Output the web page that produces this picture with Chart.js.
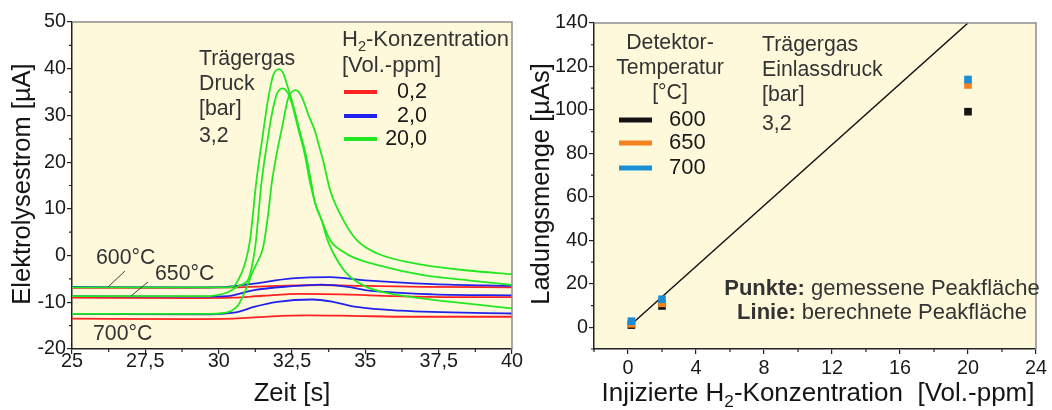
<!DOCTYPE html>
<html>
<head>
<meta charset="utf-8">
<script src="https://cdn.jsdelivr.net/npm/chart.js@4/dist/chart.umd.min.js"></script>
<style>
  body { margin: 0; background: #fff; }
  #wrap { position: relative; width: 1052px; height: 410px; }
  .box { position: absolute; top: 0; height: 410px; }
</style>
</head>
<body>
<div id="wrap">
  <div class="box" style="left:0;width:530px"><canvas id="peakChart"></canvas></div>
  <div class="box" style="left:530px;width:522px"><canvas id="areaChart"></canvas></div>
</div>
<script>
// ---- left panel: Elektrolysestrom vs. Zeit ----
const zeitTicks = [25, 27.5, 30, 32.5, 35, 37.5, 40];
const stromTicks = [-20, -10, 0, 10, 20, 30, 40, 50];
const konzLabels = ['0,2', '2,0', '20,0'];
const konzColors = ['#ff2222', '#2222ee', '#22e822'];

// 0,2 Vol.-ppm
const t_r600 = [25, 29, 30.5, 32, 33.5, 35, 37, 40];
const i_r600 = [-6.9, -6.9, -6.8, -6.5, -6.3, -6.5, -6.7, -6.8];
const t_r650 = [25, 29, 30.5, 31.5, 32.8, 34.2, 36, 38, 40];
const i_r650 = [-9.0, -9.1, -9.0, -8.6, -8.2, -8.3, -8.7, -8.9, -8.9];
const t_r700 = [25, 29, 30.5, 31.8, 33, 34.5, 36.5, 40];
const i_r700 = [-13.5, -13.6, -13.5, -13.0, -12.8, -12.9, -13.1, -13.1];

// 2,0 Vol.-ppm
const t_b600 = [25, 29.5, 30.3, 31.2, 32.5, 33.8, 35, 37.3, 40];
const i_b600 = [-6.7, -6.8, -6.7, -6.0, -4.9, -4.6, -5.3, -6.1, -6.5];
const t_b650 = [25, 29.5, 30.3, 31.2, 32.4, 33.5, 34.4, 35, 37.3, 40];
const i_b650 = [-8.7, -8.8, -8.7, -7.4, -6.6, -6.2, -6.7, -7.4, -8.3, -8.5];
const t_b700 = [25, 29.5, 30.1, 30.7, 31.2, 32, 33.2, 33.9, 34.7, 36.2, 40];
const i_b700 = [-12.5, -12.6, -12.5, -12.0, -11.0, -9.9, -9.4, -9.9, -11.0, -11.8, -12.4];

// 20,0 Vol.-ppm
const t_g600 = [25, 30.3, 30.5, 30.67, 30.9, 31.07, 31.17, 31.27, 31.52, 31.69, 31.86, 32.06, 32.2, 32.37, 32.54, 32.77, 33.0, 33.17, 33.29, 33.51, 33.7, 33.91, 34.36, 35.04, 35.6, 36.98, 38.5, 40];
const i_g600 = [-6.8, -6.8, -6.6, -5.2, -1.7, 3.3, 9.0, 15.1, 26.5, 33.7, 38.6, 39.9, 39.0, 35.8, 32.2, 26.5, 20.8, 15.1, 11.2, 7.6, 3.5, 0.5, -3.8, -6.7, -7.8, -9.2, -10.3, -11.3];
const t_g650 = [25, 29.5, 29.9, 30.33, 30.67, 31.0, 31.12, 31.25, 31.36, 31.45, 31.65, 31.82, 31.98, 32.17, 32.37, 32.48, 32.71, 32.94, 33.12, 33.29, 33.51, 33.8, 34.25, 34.59, 35.39, 36.98, 38.5, 40];
const i_g650 = [-8.7, -8.7, -8.5, -7.8, -6.5, -5.2, -2.7, 2.0, 9.0, 15.1, 24.0, 30.5, 34.5, 35.8, 34.7, 32.9, 27.2, 21.5, 15.5, 11.2, 7.6, 3.3, 0.8, -0.4, -2.0, -4.2, -5.3, -6.3];
const t_g700 = [25, 29.6, 30.0, 30.44, 30.67, 30.84, 31.0, 31.15, 31.35, 31.52, 31.69, 31.8, 31.97, 32.2, 32.37, 32.63, 32.83, 33.06, 33.29, 33.4, 33.57, 33.8, 34.25, 34.71, 35.39, 36.98, 38.5, 40];
const i_g700 = [-12.5, -12.5, -12.4, -11.8, -10.6, -8.5, -6.2, -3.6, -1.0, 1.9, 9.0, 15.1, 21.5, 28.6, 33.7, 35.4, 34.0, 30.1, 26.5, 24.0, 20.1, 14.0, 7.6, 3.3, 0.5, -2.0, -3.2, -4.0];

// ---- right panel: Ladungsmenge vs. Konzentration ----
const konzPunkte = [0.2, 2, 20];
const q600 = [1.0, 9.8, 99.2];
const q650 = [1.6, 11.0, 111.5];
const q700 = [2.8, 12.9, 114.0];
const linieX = [0.2, 20];
const linieY = [1.4, 140];
const tempLabels = ['600', '650', '700'];
const tempColors = ['#141414', '#f5821f', '#1a8fd6'];
const konzTicks = [0, 4, 8, 12, 16, 20, 24];
const ladungTicks = [0, 20, 40, 60, 80, 100, 120, 140];

const FONT = '"Liberation Sans", Arial, sans-serif';
const TEXT = '#333';
const BG = '#fff9dc';
const komma = v => String(v).replace('.', ',');
const pts = (xs, ys) => xs.map((x, i) => ({ x: x, y: ys[i] }));

// text with bold / subscript pieces, parts = [[text, kind], ...]
function drawParts(ctx, parts, x, y, size, align, color) {
  const fontOf = k => (k === 'b' ? 'bold ' : '') + (k === 's' ? size * 0.66 : size) + 'px ' + FONT;
  let total = 0;
  parts.forEach(p => { ctx.font = fontOf(p[1]); total += ctx.measureText(p[0]).width; });
  let cx = align === 'center' ? x - total / 2 : (align === 'right' ? x - total : x);
  ctx.fillStyle = color || TEXT;
  ctx.textAlign = 'left';
  ctx.textBaseline = 'middle';
  parts.forEach(p => {
    ctx.font = fontOf(p[1]);
    ctx.fillText(p[0], cx, p[1] === 's' ? y + size * 0.3 : y);
    cx += ctx.measureText(p[0]).width;
  });
}

function drawVertical(ctx, parts, x, y, size) {
  ctx.save();
  ctx.translate(x, y);
  ctx.rotate(-Math.PI / 2);
  drawParts(ctx, parts, 0, 0, size, 'center', '#151515');
  ctx.restore();
}

function minorTicks(chart, xs, ys, len) {
  const ctx = chart.ctx, a = chart.chartArea;
  ctx.save();
  ctx.strokeStyle = '#222';
  ctx.lineWidth = 1.2;
  ctx.beginPath();
  xs.forEach(v => {
    const p = chart.scales.x.getPixelForValue(v);
    ctx.moveTo(p, a.bottom); ctx.lineTo(p, a.bottom + len);
  });
  ys.forEach(v => {
    const p = chart.scales.y.getPixelForValue(v);
    ctx.moveTo(a.left - len, p); ctx.lineTo(a.left, p);
  });
  ctx.stroke();
  ctx.restore();
}

function frame(chart) {
  const ctx = chart.ctx, a = chart.chartArea;
  ctx.save();
  ctx.strokeStyle = '#8c8c8c';
  ctx.lineWidth = 1.5;
  ctx.beginPath();
  ctx.moveTo(a.left, a.top); ctx.lineTo(a.right, a.top); ctx.lineTo(a.right, a.bottom);
  ctx.stroke();
  ctx.restore();
}

function legendLine(ctx, x1, x2, y, color, w) {
  ctx.save();
  ctx.strokeStyle = color;
  ctx.lineWidth = w;
  ctx.beginPath(); ctx.moveTo(x1, y); ctx.lineTo(x2, y); ctx.stroke();
  ctx.restore();
}

const paintBg = {
  id: 'paintBg',
  beforeDraw(chart) {
    const a = chart.chartArea;
    chart.ctx.save();
    chart.ctx.fillStyle = BG;
    chart.ctx.fillRect(a.left, a.top, a.right - a.left, a.bottom - a.top);
    chart.ctx.restore();
  }
};

const peakDeko = {
  id: 'peakDeko',
  afterDraw(chart) {
    const ctx = chart.ctx;
    frame(chart);
    minorTicks(chart, [26.25, 28.75, 31.25, 33.75, 36.25, 38.75], [-15, -5, 5, 15, 25, 35, 45], 3);

    ['Trägergas', 'Druck', '[bar]', '3,2'].forEach((s, i) =>
      drawParts(ctx, [[s, '']], 199, [59, 84, 109, 136][i], 21.3, 'left'));

    drawParts(ctx, [['H', ''], ['2', 's'], ['-Konzentration', '']], 342, 40, 22, 'left');
    drawParts(ctx, [['[Vol.-ppm]', '']], 342, 66, 22, 'left');
    konzLabels.forEach((s, i) => {
      const y = [92, 116, 139][i];
      legendLine(ctx, 344, 377, y, konzColors[i], 4);
      drawParts(ctx, [[s, '']], 427, y, 21.5, 'right', '#1a1a1a');
    });

    drawParts(ctx, [['600°C', '']], 96, 258, 21.3, 'left');
    drawParts(ctx, [['650°C', '']], 155, 274, 21.3, 'left');
    drawParts(ctx, [['700°C', '']], 93, 334, 21.3, 'left');
    ctx.save();
    ctx.strokeStyle = '#444';
    ctx.lineWidth = 1;
    ctx.beginPath();
    ctx.moveTo(108, 287); ctx.lineTo(125, 271);
    ctx.moveTo(131, 296); ctx.lineTo(148, 282);
    ctx.stroke();
    ctx.restore();

    drawVertical(ctx, [['Elektrolysestrom [µA]', '']], 22.5, 184, 25.5);
    drawParts(ctx, [['Zeit [s]', '']], 292, 394, 25.5, 'center', '#151515');
  }
};

const areaDeko = {
  id: 'areaDeko',
  afterDraw(chart) {
    const ctx = chart.ctx;
    frame(chart);
    minorTicks(chart, [-2, 2, 6, 10, 14, 18, 22], [-10, 10, 30, 50, 70, 90, 110, 130], 3);

    drawParts(ctx, [['Detektor-', '']], 140, 43, 21.3, 'center');
    drawParts(ctx, [['Temperatur', '']], 140, 68, 21.3, 'center');
    drawParts(ctx, [['[°C]', '']], 140, 93, 21.3, 'center');
    tempLabels.forEach((s, i) => {
      const y = [120, 143, 168][i];
      legendLine(ctx, 89, 122, y, tempColors[i], 5);
      drawParts(ctx, [[s, '']], 139, y, 22, 'left', '#1a1a1a');
    });

    ['Trägergas', 'Einlassdruck', '[bar]', '3,2'].forEach((s, i) =>
      drawParts(ctx, [[s, '']], 232, [45, 70, 95, 124][i], 21.3, 'left'));

    drawParts(ctx, [['Punkte:', 'b'], [' gemessene Peakfläche', '']], 352, 289, 22, 'center');
    drawParts(ctx, [['Linie:', 'b'], [' berechnete Peakfläche', '']], 352, 313, 22, 'center');

    drawVertical(ctx, [['Ladungsmenge [µAs]', '']], 12, 184, 25.5);
    drawParts(ctx, [['Injizierte H', ''], ['2', 's'], ['-Konzentration  [Vol.-ppm]', '']], 288, 394, 26, 'center', '#151515');
  }
};

function axis(min, max, ticks, size, pad) {
  return {
    type: 'linear', min: min, max: max,
    afterBuildTicks: s => { s.ticks = ticks.map(v => ({ value: v })); },
    ticks: { callback: komma, color: '#1a1a1a', font: { family: FONT, size: 19.8, lineHeight: 1 }, padding: pad, maxRotation: 0, autoSkip: false },
    grid: { drawOnChartArea: false, tickLength: 5, color: '#222', lineWidth: 1.2 },
    border: { color: '#222', width: 1.5 },
    afterFit: s => { if (s.isHorizontal()) s.height = size; else s.width = size; }
  };
}

// left chart
const peakCurves = [
  [t_g600, i_g600, 2], [t_g650, i_g650, 2], [t_g700, i_g700, 2],
  [t_b600, i_b600, 1], [t_b650, i_b650, 1], [t_b700, i_b700, 1],
  [t_r600, i_r600, 0], [t_r650, i_r650, 0], [t_r700, i_r700, 0]
];

new Chart(document.getElementById('peakChart'), {
  type: 'line',
  data: {
    datasets: peakCurves.map(c => ({
      data: pts(c[0], c[1]),
      borderColor: konzColors[c[2]],
      borderWidth: 1.8,
      pointRadius: 0,
      cubicInterpolationMode: 'monotone',
      order: 2 - c[2]
    }))
  },
  options: {
    responsive: true,
    maintainAspectRatio: false,
    animation: false,
    events: [],
    layout: { padding: { top: 22, right: 18, left: 0, bottom: 0 } },
    plugins: { legend: { display: false }, tooltip: { enabled: false } },
    scales: {
      x: axis(25, 40, zeitTicks, 61, -2),
      y: axis(-20, 50, stromTicks, 72, 1)
    }
  },
  plugins: [paintBg, peakDeko]
});

// right chart
new Chart(document.getElementById('areaChart'), {
  type: 'scatter',
  data: {
    datasets: [
      { data: pts(linieX, linieY), showLine: true, borderColor: '#141414', borderWidth: 1.5, pointRadius: 0, order: 3 },
      { data: pts(konzPunkte, q600), backgroundColor: tempColors[0], order: 2 },
      { data: pts(konzPunkte, q650), backgroundColor: tempColors[1], order: 1 },
      { data: pts(konzPunkte, q700), backgroundColor: tempColors[2], order: 0 }
    ]
  },
  options: {
    responsive: true,
    maintainAspectRatio: false,
    animation: false,
    events: [],
    layout: { padding: { top: 23, right: 11, left: 0, bottom: 0 } },
    elements: { point: { pointStyle: 'rect', radius: 5.4, borderWidth: 0 } },
    plugins: { legend: { display: false }, tooltip: { enabled: false } },
    scales: {
      x: axis(-2, 24, konzTicks, 61, 5),
      y: axis(-10, 140, ladungTicks, 64, 1)
    }
  },
  plugins: [paintBg, areaDeko]
});
</script>
</body>
</html>
